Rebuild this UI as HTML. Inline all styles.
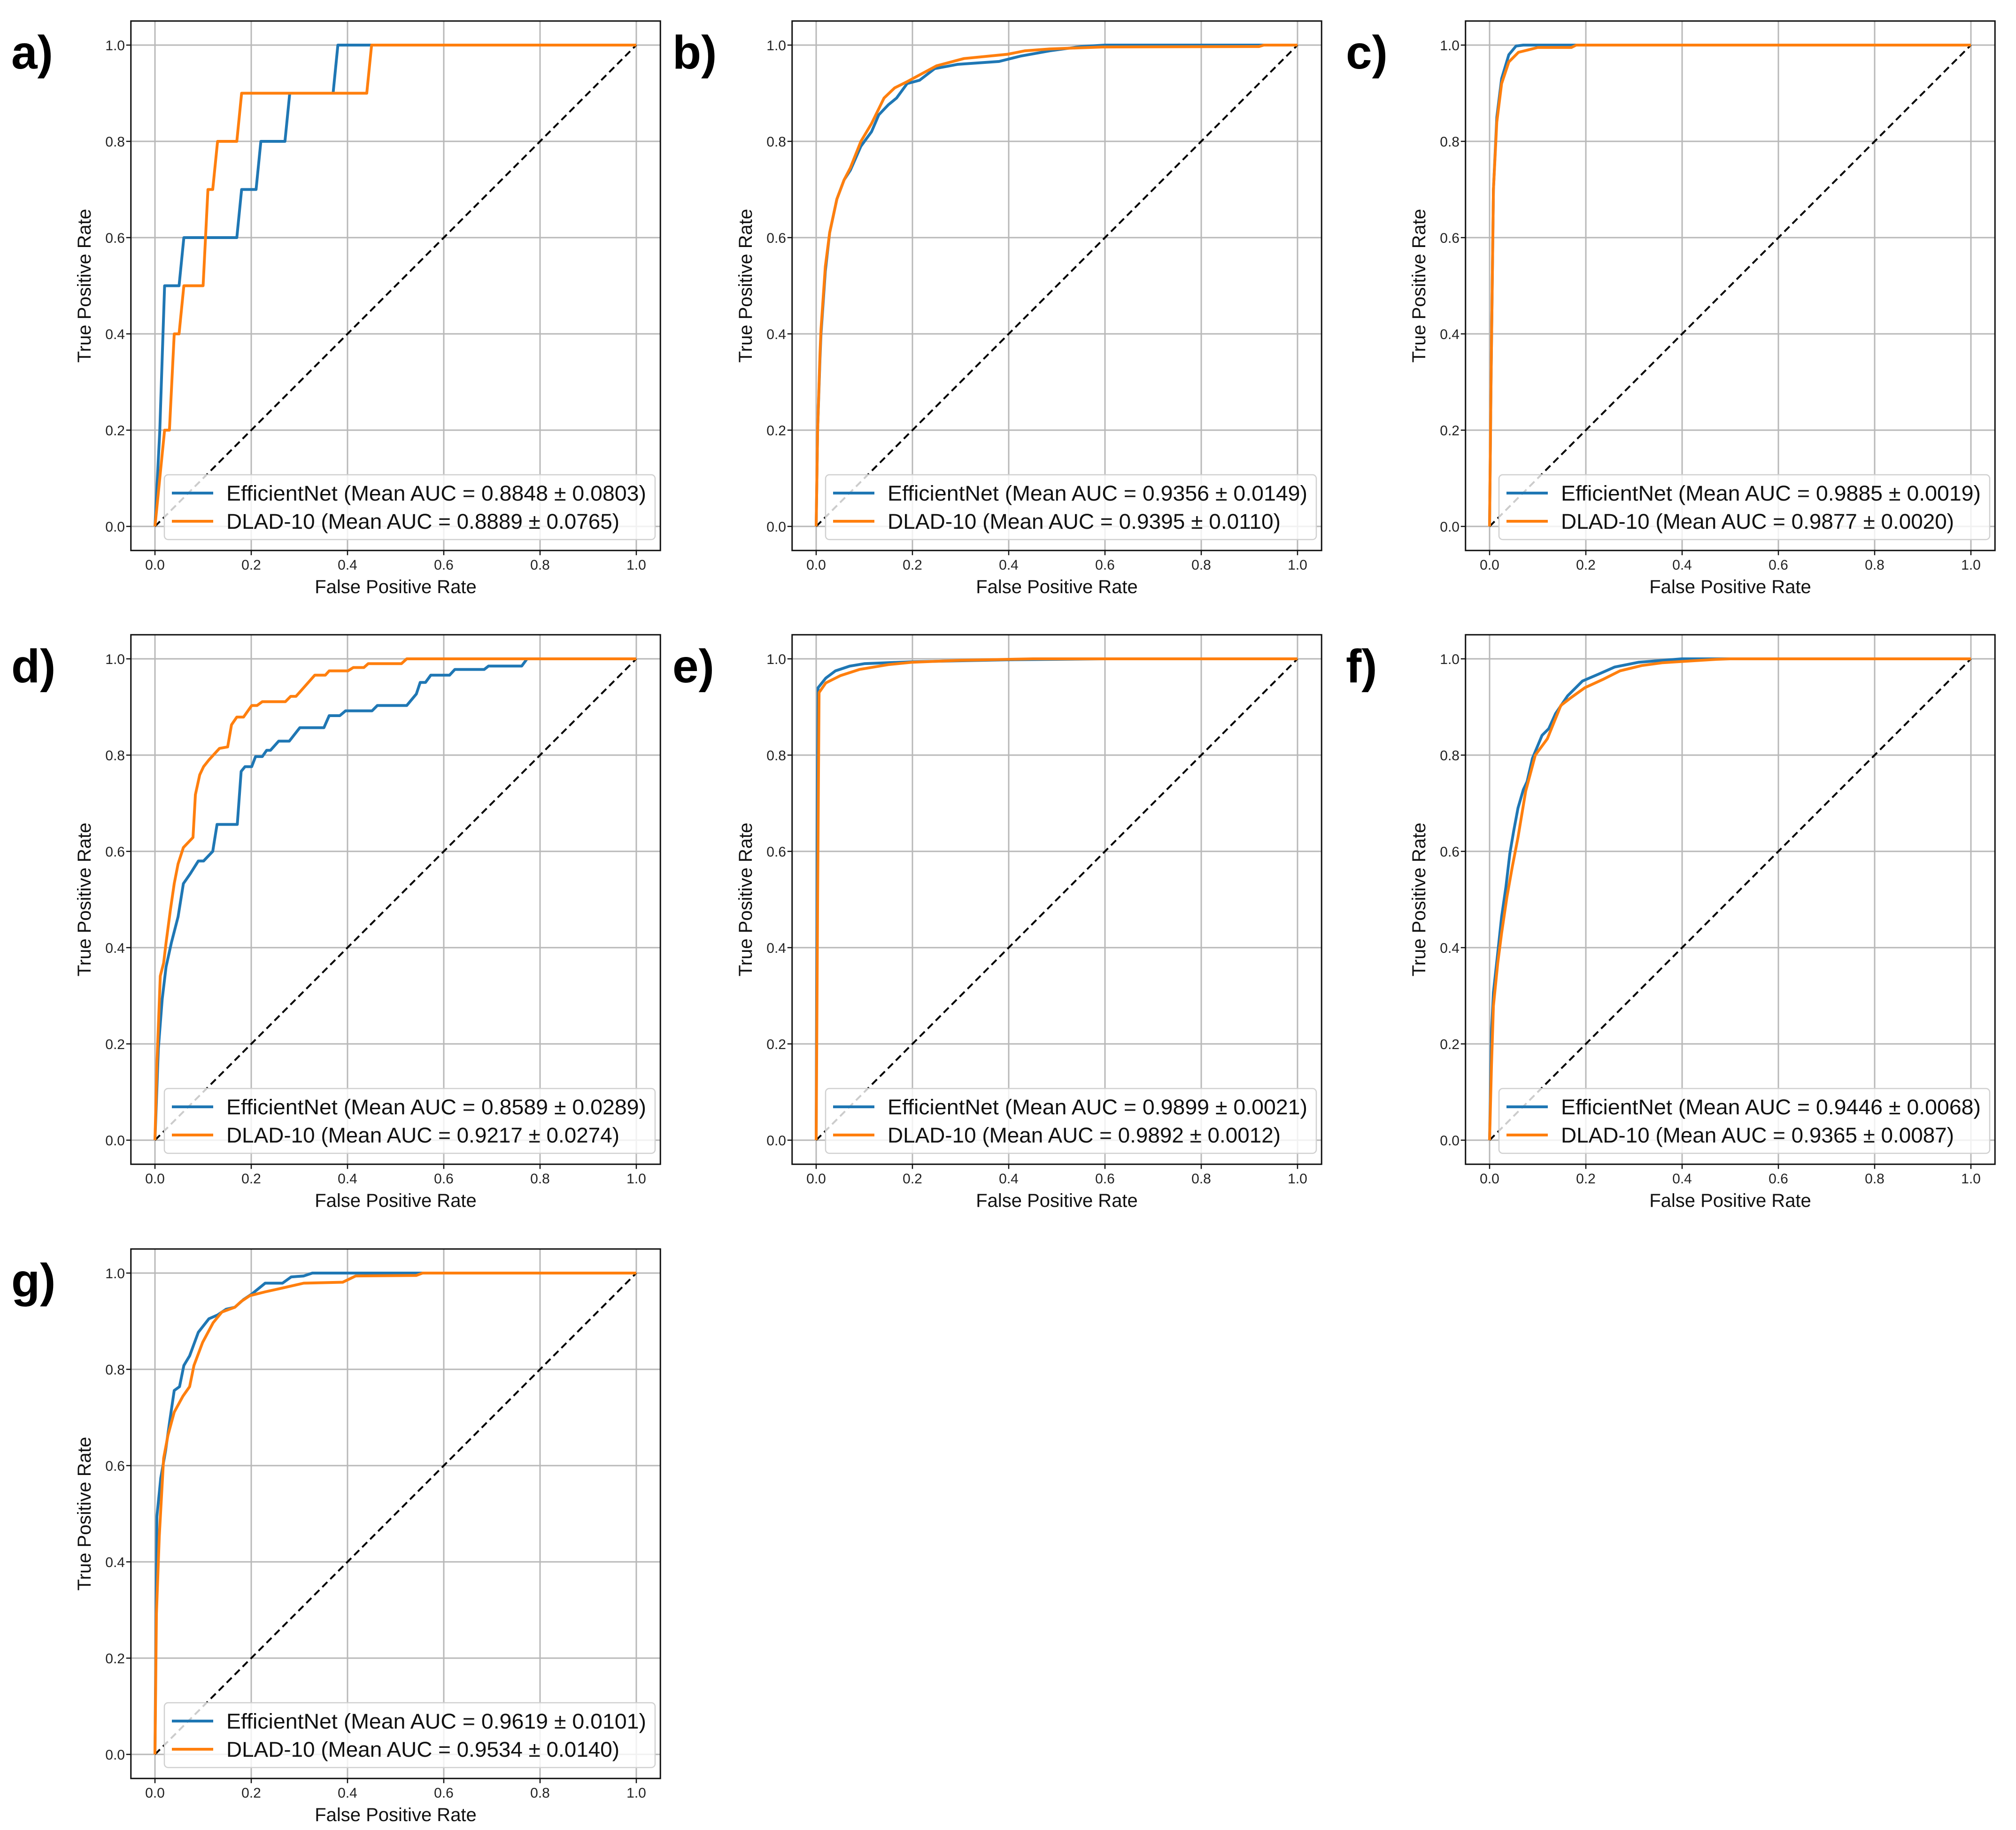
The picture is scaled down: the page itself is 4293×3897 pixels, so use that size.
<!DOCTYPE html>
<html><head><meta charset="utf-8">
<style>
html,body{margin:0;padding:0;background:#fff;}
svg{display:block;}
text{font-family:"Liberation Sans",sans-serif;}
</style></head>
<body>
<svg id="fig" width="4293" height="3897" viewBox="0 0 4293 3897" xmlns="http://www.w3.org/2000/svg"></svg>
<script>
const panelLetters = ["a)","b)","c)","d)","e)","f)","g)"];
const effAuc = ["0.8848 ± 0.0803","0.9356 ± 0.0149","0.9885 ± 0.0019","0.8589 ± 0.0289","0.9899 ± 0.0021","0.9446 ± 0.0068","0.9619 ± 0.0101"];
const dladAuc = ["0.8889 ± 0.0765","0.9395 ± 0.0110","0.9877 ± 0.0020","0.9217 ± 0.0274","0.9892 ± 0.0012","0.9365 ± 0.0087","0.9534 ± 0.0140"];
const tickValues = [0,0.2,0.4,0.6,0.8,1.0];
const tickLabels = ["0.0","0.2","0.4","0.6","0.8","1.0"];

const effA = [[0,0],[0.01,0.2],[0.02,0.5],[0.05,0.5],[0.06,0.6],[0.17,0.6],[0.18,0.7],[0.21,0.7],[0.22,0.8],[0.27,0.8],[0.28,0.9],[0.37,0.9],[0.38,1],[1,1]];
const dladA = [[0,0],[0.02,0.2],[0.03,0.2],[0.04,0.4],[0.05,0.4],[0.06,0.5],[0.1,0.5],[0.11,0.7],[0.12,0.7],[0.13,0.8],[0.17,0.8],[0.18,0.9],[0.44,0.9],[0.45,1],[1,1]];
const effB = [[0,0],[0.003,0.2],[0.008,0.35],[0.01,0.4],[0.019,0.53],[0.028,0.61],[0.043,0.68],[0.058,0.72],[0.071,0.74],[0.093,0.79],[0.115,0.82],[0.13,0.855],[0.15,0.876],[0.167,0.89],[0.189,0.92],[0.215,0.927],[0.246,0.951],[0.294,0.96],[0.38,0.966],[0.424,0.977],[0.485,0.988],[0.55,0.997],[0.6,1],[1,1]];
const dladB = [[0,0],[0.003,0.2],[0.008,0.36],[0.01,0.41],[0.019,0.54],[0.028,0.61],[0.043,0.68],[0.058,0.72],[0.071,0.745],[0.093,0.80],[0.115,0.837],[0.141,0.89],[0.163,0.911],[0.189,0.924],[0.25,0.957],[0.307,0.972],[0.398,0.981],[0.433,0.988],[0.485,0.992],[0.594,0.996],[0.92,0.997],[0.93,1],[1,1]];
const effC = [[0,0],[0.003,0.3],[0.008,0.7],[0.015,0.85],[0.025,0.93],[0.04,0.98],[0.055,0.998],[0.07,1],[0.18,1],[1,1]];
const dladC = [[0,0],[0.003,0.3],[0.008,0.7],[0.015,0.84],[0.025,0.92],[0.04,0.965],[0.06,0.985],[0.08,0.99],[0.1,0.995],[0.17,0.995],[0.18,1],[1,1]];
const effD = [[0,0],[0.007,0.19],[0.015,0.293],[0.023,0.36],[0.034,0.41],[0.048,0.464],[0.059,0.533],[0.073,0.553],[0.09,0.58],[0.101,0.58],[0.12,0.6],[0.129,0.656],[0.171,0.656],[0.179,0.766],[0.187,0.776],[0.201,0.776],[0.209,0.797],[0.223,0.797],[0.232,0.81],[0.24,0.81],[0.257,0.829],[0.279,0.829],[0.301,0.857],[0.351,0.857],[0.362,0.882],[0.384,0.882],[0.396,0.892],[0.451,0.892],[0.462,0.903],[0.523,0.903],[0.543,0.927],[0.551,0.951],[0.562,0.951],[0.573,0.966],[0.612,0.966],[0.623,0.978],[0.684,0.978],[0.693,0.985],[0.762,0.985],[0.773,1],[1,1]];
const dladD = [[0,0],[0.004,0.156],[0.011,0.341],[0.018,0.368],[0.023,0.41],[0.032,0.478],[0.04,0.533],[0.048,0.574],[0.059,0.608],[0.079,0.629],[0.084,0.718],[0.093,0.759],[0.101,0.776],[0.112,0.79],[0.134,0.814],[0.151,0.817],[0.159,0.863],[0.17,0.879],[0.184,0.879],[0.201,0.903],[0.212,0.903],[0.223,0.911],[0.271,0.911],[0.282,0.922],[0.293,0.922],[0.332,0.966],[0.354,0.966],[0.362,0.975],[0.401,0.975],[0.412,0.982],[0.434,0.982],[0.443,0.99],[0.512,0.99],[0.523,1],[1,1]];
const effE = [[0,0],[0.002,0.6],[0.004,0.94],[0.02,0.96],[0.04,0.975],[0.07,0.985],[0.1,0.99],[0.2,0.994],[0.4,0.998],[0.6,1],[1,1]];
const dladE = [[0,0],[0.003,0.5],[0.006,0.93],[0.02,0.95],[0.05,0.965],[0.09,0.978],[0.15,0.988],[0.2,0.993],[0.3,0.997],[0.45,1],[1,1]];
const effF = [[0,0],[0.004,0.225],[0.008,0.307],[0.017,0.389],[0.025,0.464],[0.034,0.526],[0.042,0.595],[0.05,0.642],[0.059,0.69],[0.07,0.728],[0.078,0.745],[0.089,0.793],[0.109,0.841],[0.123,0.855],[0.137,0.886],[0.162,0.923],[0.193,0.954],[0.226,0.968],[0.26,0.983],[0.31,0.993],[0.399,1],[1,1]];
const dladF = [[0,0],[0.004,0.156],[0.008,0.279],[0.017,0.368],[0.025,0.43],[0.036,0.505],[0.047,0.567],[0.059,0.629],[0.075,0.725],[0.095,0.8],[0.12,0.834],[0.148,0.903],[0.17,0.92],[0.198,0.94],[0.237,0.958],[0.271,0.975],[0.316,0.986],[0.36,0.992],[0.472,0.999],[0.5,1],[1,1]];
const effG = [[0,0],[0.004,0.494],[0.012,0.574],[0.022,0.631],[0.031,0.695],[0.04,0.756],[0.051,0.764],[0.06,0.808],[0.072,0.828],[0.09,0.877],[0.112,0.905],[0.13,0.913],[0.148,0.925],[0.166,0.929],[0.184,0.945],[0.202,0.957],[0.229,0.979],[0.265,0.979],[0.283,0.992],[0.309,0.994],[0.327,1],[1,1]];
const dladG = [[0,0],[0.003,0.292],[0.009,0.453],[0.018,0.615],[0.027,0.663],[0.04,0.711],[0.058,0.744],[0.072,0.764],[0.081,0.808],[0.099,0.856],[0.121,0.897],[0.139,0.919],[0.166,0.929],[0.179,0.941],[0.197,0.953],[0.229,0.961],[0.265,0.969],[0.309,0.979],[0.39,0.981],[0.417,0.994],[0.543,0.995],[0.556,1],[1,1]];

const effSeries = [effA,effB,effC,effD,effE,effF,effG];
const dladSeries = [dladA,dladB,dladC,dladD,dladE,dladF,dladG];

const NS = "http://www.w3.org/2000/svg";
const svg = document.getElementById("fig");
const colX0 = [330,1738,3172];
const rowY1 = [96,1403,2711];
const W = 1025, H = 1025;
const BLUE = "#1f77b4", ORANGE = "#ff7f0e";

function mk(tag, attrs, parent, text){
  const e = document.createElementNS(NS, tag);
  for (const k in attrs) e.setAttribute(k, attrs[k]);
  if (text !== undefined) e.textContent = text;
  parent.appendChild(e);
  return e;
}

for (let i = 0; i < 7; i++) {
  const col = i % 3, row = Math.floor(i / 3);
  const x0 = colX0[col], y1 = rowY1[row], y0 = y1 + H;
  const sx = v => x0 + v * W;
  const sy = v => y0 - v * H;
  const g = mk("g", {}, svg);
  
  

  const lt = mk("text", {x: x0 - 306, y: y1 + 50, "font-size": 100, "font-weight": "bold", fill: "#000"}, g, panelLetters[i]);
  
  

  const bx = sx(-0.05), by = sy(1.05), bw = W * 1.1, bh = H * 1.1;
  mk("rect", {x: bx, y: by, width: bw, height: bh, fill: "#fff"}, g);

  tickValues.forEach(t => {
    const gv = mk("line", {x1: sx(t), x2: sx(t), y1: by, y2: by + bh, stroke: "#b8b8b8", "stroke-width": 3}, g);
    
    
    const gh = mk("line", {x1: bx, x2: bx + bw, y1: sy(t), y2: sy(t), stroke: "#b8b8b8", "stroke-width": 3}, g);
    
    
  });

  const dg = mk("line", {x1: sx(0), y1: sy(0), x2: sx(1), y2: sy(1), stroke: "#000", "stroke-width": 4, "stroke-dasharray": "15,9"}, g);
  
  

  const drawCurve = (data, color, name) => {
    const d = data.map((p, k) => (k ? "L" : "M") + sx(p[0]).toFixed(1) + "," + sy(p[1]).toFixed(1)).join(" ");
    const path = mk("path", {d: d, fill: "none", stroke: color, "stroke-width": 6, "stroke-linejoin": "round"}, g);
    
    
  };
  drawCurve(effSeries[i], BLUE, 'efficientnet-roc-curve');
  drawCurve(dladSeries[i], ORANGE, 'dlad10-roc-curve');

  const fr = mk("rect", {x: bx, y: by, width: bw, height: bh, fill: "none", stroke: "#111", "stroke-width": 3}, g);
  
  

  tickValues.forEach((t, k) => {
    mk("line", {x1: sx(t), x2: sx(t), y1: by + bh, y2: by + bh + 10, stroke: "#111", "stroke-width": 2.5}, g);
    mk("line", {x1: bx - 10, x2: bx, y1: sy(t), y2: sy(t), stroke: "#111", "stroke-width": 2.5}, g);
    const xt = mk("text", {x: sx(t), y: y0 + 92, "font-size": 30, "text-anchor": "middle", fill: "#222"}, g, tickLabels[k]);
    
    
    const yt = mk("text", {x: x0 - 64, y: sy(t) + 11, "font-size": 30, "text-anchor": "end", fill: "#222"}, g, tickLabels[k]);
    
    
  });

  const xl = mk("text", {x: x0 + W / 2, y: y0 + 142, "font-size": 40, "text-anchor": "middle", fill: "#111"}, g, "False Positive Rate");
  
  
  const ycx = x0 - 151, ycy = y1 + H / 2;
  const yl = mk("text", {x: ycx, y: ycy + 14, "font-size": 40, "text-anchor": "middle", fill: "#111", transform: "rotate(-90 " + ycx + " " + ycy + ")"}, g, "True Positive Rate");
  
  

  const lg = mk("g", {}, g);
  
  
  mk("rect", {x: x0 + 20, y: y0 - 110, width: 1045, height: 138, rx: 8, fill: "#fff", "fill-opacity": 0.8, stroke: "#d0d0d0", "stroke-width": 2.5}, lg);
  const e1 = mk("g", {}, lg);
  
  
  mk("line", {x1: x0 + 36, x2: x0 + 124, y1: y0 - 71, y2: y0 - 71, stroke: BLUE, "stroke-width": 6}, e1);
  mk("text", {x: x0 + 152, y: y0 - 55, "font-size": 45, fill: "#111", textLength: 894, lengthAdjust: "spacingAndGlyphs"}, e1, "EfficientNet (Mean AUC = " + effAuc[i] + ")");
  const e2 = mk("g", {}, lg);
  
  
  mk("line", {x1: x0 + 36, x2: x0 + 124, y1: y0 - 11, y2: y0 - 11, stroke: ORANGE, "stroke-width": 6}, e2);
  mk("text", {x: x0 + 152, y: y0 + 5, "font-size": 45, fill: "#111", textLength: 837, lengthAdjust: "spacingAndGlyphs"}, e2, "DLAD-10 (Mean AUC = " + dladAuc[i] + ")");
}
</script>
</body></html>
